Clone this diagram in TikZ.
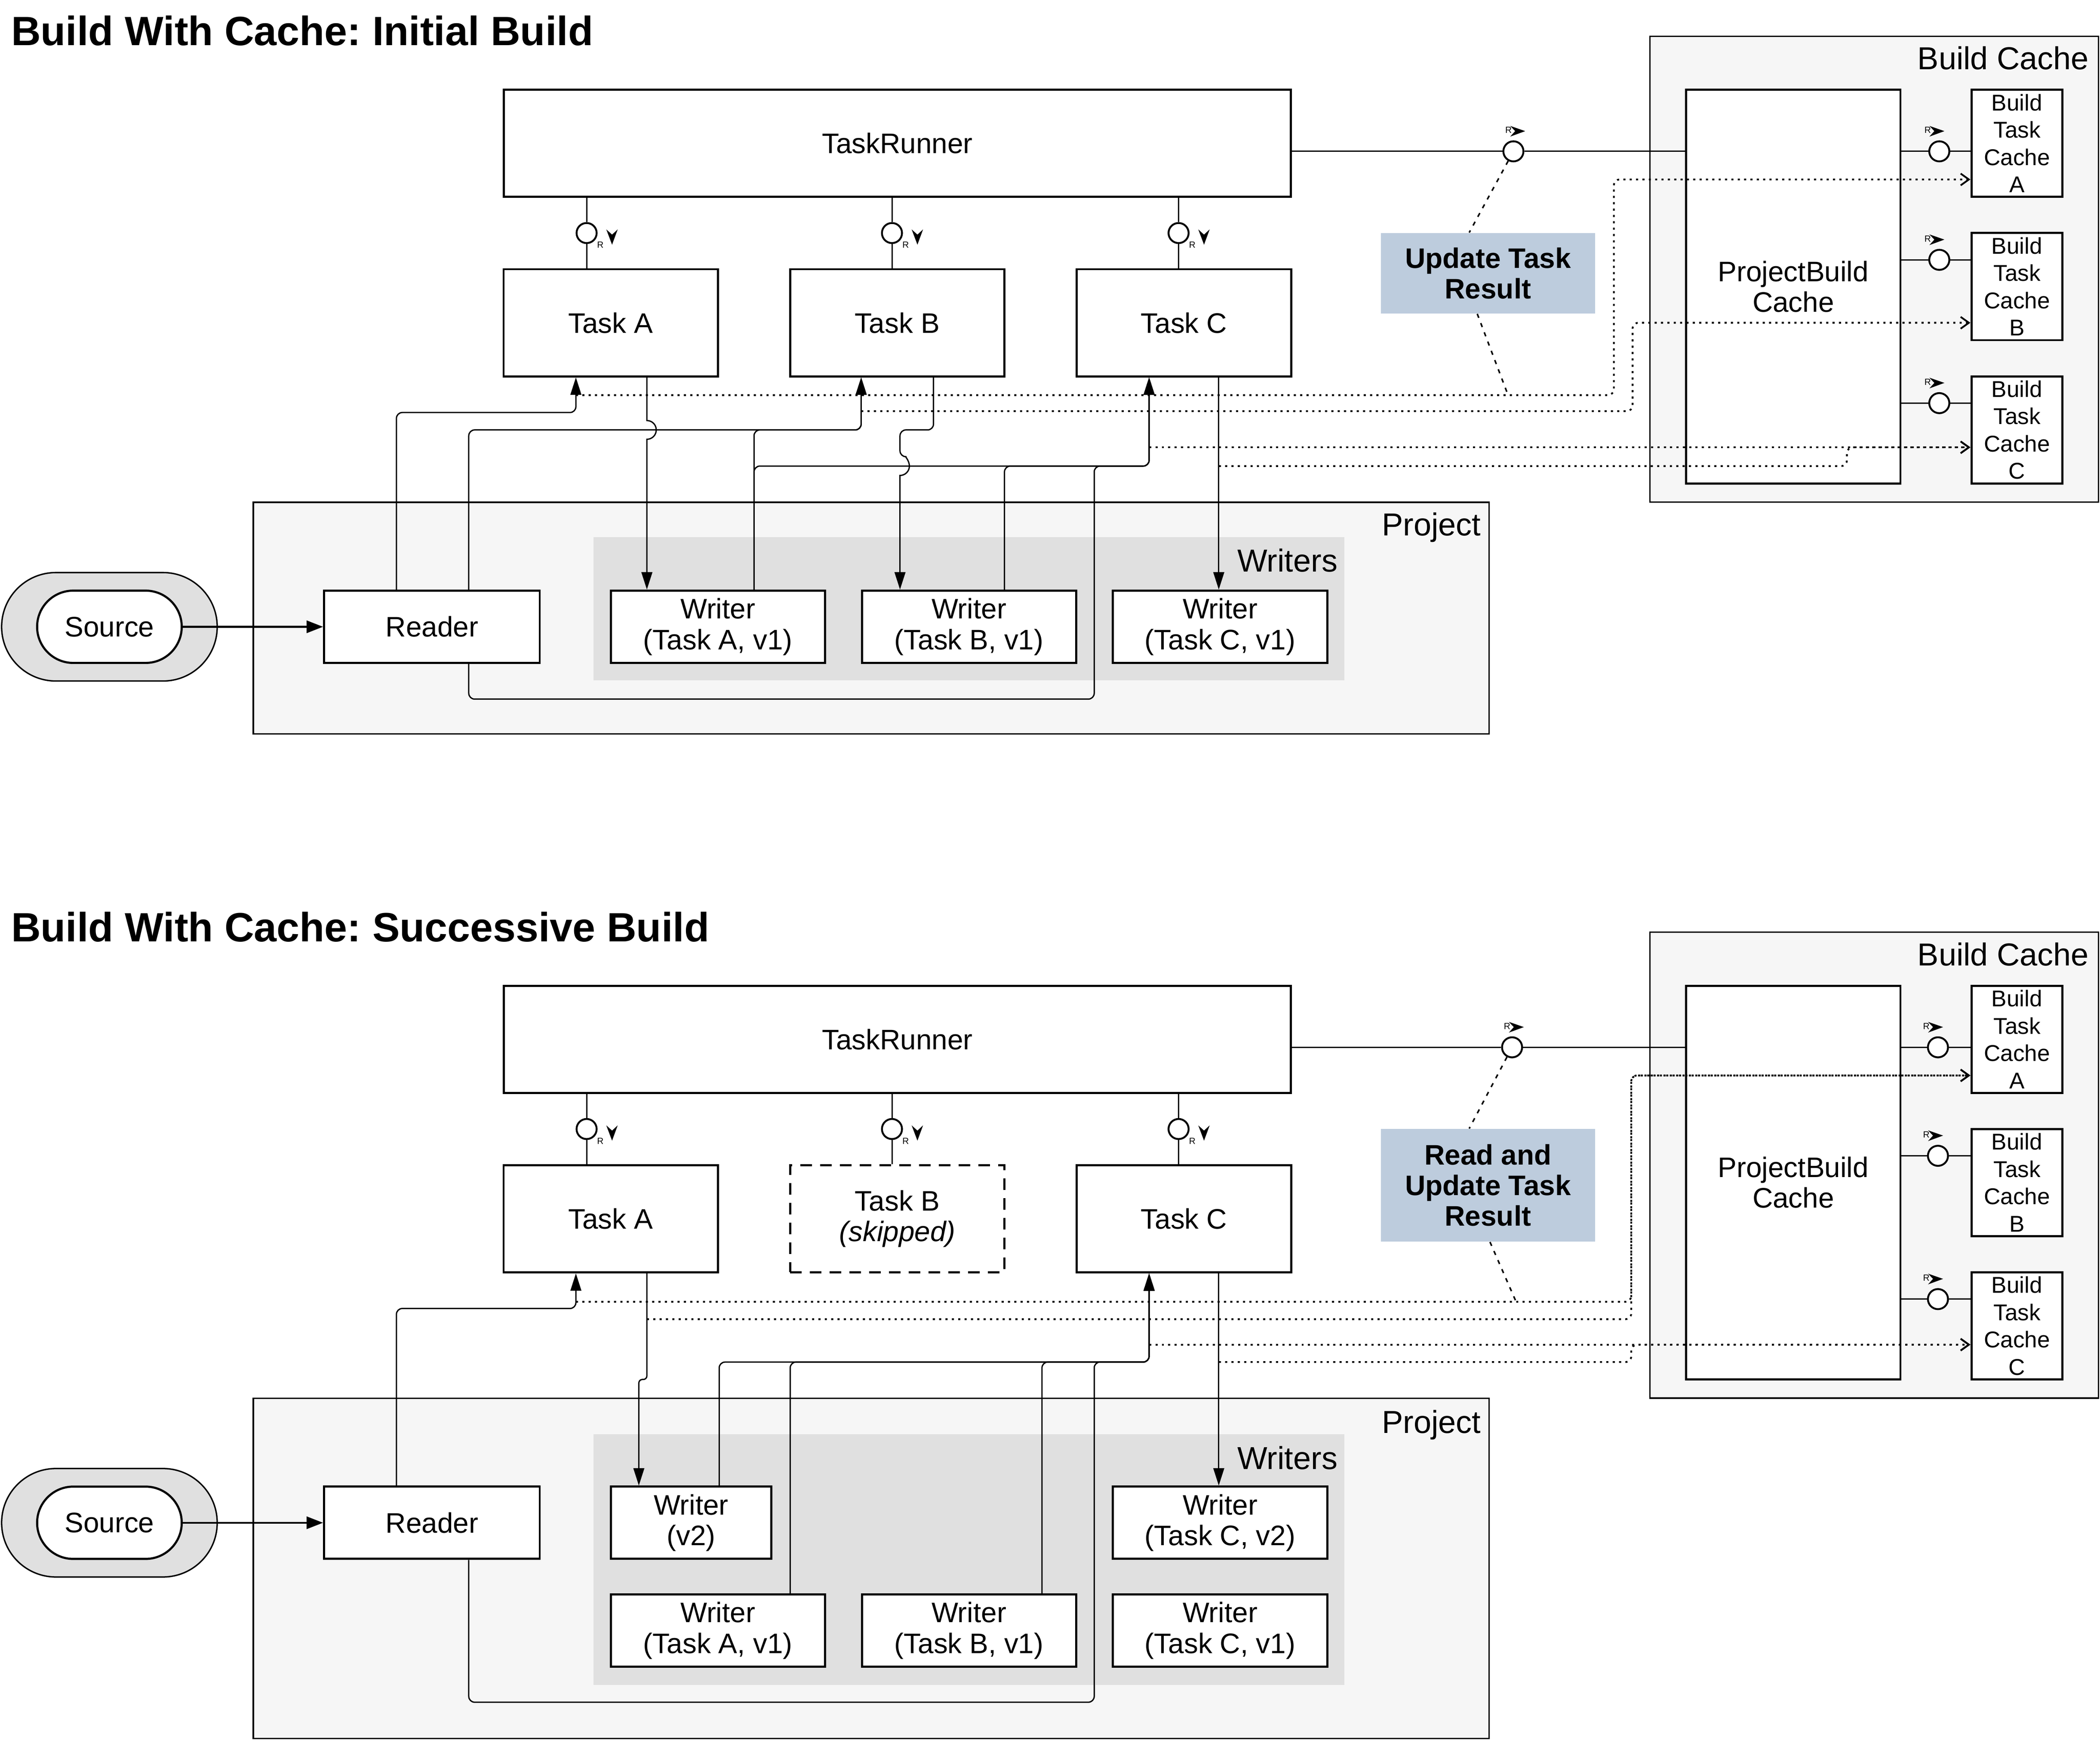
\documentclass[tikz,border=0pt]{standalone}
\usepackage{fontspec}
\setmainfont{Liberation Sans}
\usetikzlibrary{arrows.meta}
\frenchspacing

\definecolor{groupfill}{HTML}{F6F6F6}
\definecolor{writerfill}{HTML}{E0E0E0}
\definecolor{notefill}{HTML}{BDCCDD}

\tikzset{
  box/.style={draw, line width=0.9pt, fill=white, inner sep=0pt, align=center, font=\fontsize{12}{13}\selectfont},
  task/.style={box, minimum width=3.2cm, minimum height=1.6cm},
  skipped/.style={task, dash pattern=on 4.9pt off 3.5pt},
  writer/.style={box, minimum width=3.2cm, minimum height=1.08cm},
  cachebit/.style={box, minimum width=1.36cm, minimum height=1.6cm, font=\fontsize{9.7}{11.6}\selectfont},
  group/.style={draw, line width=0.6pt, fill=groupfill, inner sep=0pt},
  writerset/.style={fill=writerfill, inner sep=0pt, minimum width=11.22cm},
  grouplabel/.style={inner sep=0pt, font=\fontsize{13.5}{15}\selectfont},
  title/.style={inner sep=0pt, font=\fontsize{17.4}{20}\selectfont\bfseries},
  note/.style={fill=notefill, minimum width=3.2cm, inner sep=0pt, align=center, font=\fontsize{12}{13}\selectfont\bfseries},
  srcouter/.style={draw, line width=0.6pt, fill=writerfill, rounded corners=0.81cm, minimum width=3.22cm, minimum height=1.62cm},
  srcinner/.style={box, rounded corners=0.54cm, minimum width=2.16cm, minimum height=1.08cm},
  iface/.style={circle, draw, line width=0.8pt, fill=white, minimum size=0.3cm, inner sep=0pt},
  rtag/.style={inner sep=0pt, font=\fontsize{3.8}{4}\selectfont},
  conn/.style={line width=0.55pt, rounded corners=2.5pt},
  flow/.style={conn, -{Triangle[length=7.4pt,width=4.6pt]}},
  feed/.style={line width=0.85pt, -{Triangle[length=7pt,width=5.2pt]}},
  store/.style={line width=0.75pt, dash pattern=on 0.9pt off 1.8pt, rounded corners=2.5pt, -{Straight Barb[length=3.5pt,width=5pt]}},
  notelink/.style={line width=0.65pt, dash pattern=on 1.8pt off 2.4pt},
}

% R tag beside an interface circle
\newcommand{\tagdown}[1]{%
  \begin{scope}[shift={(#1)}]
    \node[rtag] (#1r) at (10.2,8.9) {R};
    \fill (14.7,-2.7) -- (19,1.2) -- (23.2,-2.7) -- (19,8.7) -- cycle;
  \end{scope}}
\newcommand{\tagright}[2]{%
  \begin{scope}[shift={(#1)}, xshift=#2]
    \node[rtag] (#1r) at (-3.7,-15.8) {R};
    \fill (-2.4,-19) -- (1.3,-15.1) -- (-2.4,-11) -- (8.8,-15.1) -- cycle;
  \end{scope}}

\begin{document}
\begin{tikzpicture}[x=0.02cm, y=-0.02cm]
  \useasboundingbox (0,0) rectangle (1568,1299);

  % ---------------- initial build ----------------
  \node[title, anchor=base west] (ttl1) at (8,34) {Build With Cache: Initial Build};

  \node[group, minimum width=6.7cm, minimum height=6.96cm] (bc1) at (1399.5,201) {};
  \node[grouplabel, anchor=base east] (bcl1) at (1560,52) {Build Cache};
  \node[group, minimum width=18.46cm, minimum height=3.46cm] (pj1) at (650.5,461.5) {};
  \node[grouplabel, anchor=base east] (pjl1) at (1106,400) {Project};
  \node[writerset, minimum height=2.14cm] (ws1) at (723.5,454.5) {};
  \node[grouplabel, anchor=base east] (wsl1) at (999,427) {Writers};

  \node[task, minimum width=11.76cm] (tr1) at (670,107) {TaskRunner};
  \node[task] (tkA1) at (456,241) {Task A};
  \node[task] (tkB1) at (670,241) {Task B};
  \node[task] (tkC1) at (884,241) {Task C};

  \node[box, minimum width=3.2cm, minimum height=5.88cm] (pbc1) at (1339,214) {ProjectBuild\\Cache};
  \node[cachebit] (bcA1) at (1506,107) {Build\\Task\\Cache\\A};
  \node[cachebit] (bcB1) at (1506,214) {Build\\Task\\Cache\\B};
  \node[cachebit] (bcC1) at (1506,321) {Build\\Task\\Cache\\C};

  \node[srcouter] (sbg1) at (81.7,468) {};
  \node[srcinner] (src1) at (81.7,468) {Source};
  \node[writer, minimum width=3.22cm] (rd1) at (322.5,468) {Reader};
  \node[writer] (wA1) at (536,468) {Writer\\(Task A, v1)};
  \node[writer] (wB1) at (723.5,468) {Writer\\(Task B, v1)};
  \node[writer] (wC1) at (911,468) {Writer\\(Task C, v1)};

  \node[note, minimum height=1.2cm] (nt1) at (1111,204) {Update Task\\Result};

  \node[iface] (ifA1) at (438,174) {};
  \node[iface] (ifB1) at (666,174) {};
  \node[iface] (ifC1) at (880,174) {};
  \node[iface] (ifR1) at (1130,113) {};
  \node[iface] (ifCA1) at (1448,113) {};
  \node[iface] (ifCB1) at (1448,194) {};
  \node[iface] (ifCC1) at (1448,301) {};
  \tagdown{ifA1} \tagdown{ifB1} \tagdown{ifC1}
  \tagright{ifR1}{0cm} \tagright{ifCA1}{-0.1cm} \tagright{ifCB1}{-0.1cm} \tagright{ifCC1}{-0.1cm}

  \draw[conn] (tr1.south -| ifA1) -- (ifA1) -- (tkA1.north -| ifA1);
  \draw[conn] (tr1.south -| ifB1) -- (ifB1) -- (tkB1.north -| ifB1);
  \draw[conn] (tr1.south -| ifC1) -- (ifC1) -- (tkC1.north -| ifC1);
  \draw[conn] (tr1.east |- ifR1) -- (ifR1) -- (pbc1.west |- ifR1);
  \draw[conn] (pbc1.east |- ifCA1) -- (ifCA1) -- (bcA1.west |- ifCA1);
  \draw[conn] (pbc1.east |- ifCB1) -- (ifCB1) -- (bcB1.west |- ifCB1);
  \draw[conn] (pbc1.east |- ifCC1) -- (ifCC1) -- (bcC1.west |- ifCC1);

  \draw[feed] (src1) -- (rd1);
  \draw[flow] (rd1.north -| 296,0) |- (430,308) -- (tkA1.south -| 430,0);
  \draw[flow] (rd1.north -| 350,0) |- (643,321) -- (tkB1.south -| 643,0);
  \draw[flow] (wA1.north -| 563,0) |- (643,321) -- (tkB1.south -| 643,0);
  \draw[flow] (wA1.north -| 563,0) |- (858,348) -- (tkC1.south -| 858,0);
  \draw[flow] (wB1.north -| 750,0) |- (858,348) -- (tkC1.south -| 858,0);
  \draw[flow] (rd1.south -| 350,0) |- (817,522) |- (858,348) -- (tkC1.south -| 858,0);
  \draw[flow, sharp corners] (tkA1.south -| 483,0) -- (483,314) arc[start angle=90, end angle=-90, radius=0.14cm] -- (wA1.north -| 483,0);
  \draw[flow] (tkB1.south -| 697,0) |- (672,321) -- (672,341) [sharp corners] arc[start angle=90, end angle=-90, radius=0.14cm] -- (wB1.north -| 672,0);
  \draw[flow] (tkC1.south -| 910,0) -- (wC1.north -| 910,0);

  \coordinate (inA1) at (430,295);
  \coordinate (inB1) at (643,307);
  \coordinate (inC1) at (858,334);
  \coordinate (outC1) at (910,348);
  \coordinate (ntA1) at (1126,295);
  \draw[store] (inA1) -| (1205,134) -- (bcA1.west |- 0,134);
  \draw[store] (inB1) -| (1219,241) -- (bcB1.west |- 0,241);
  \draw[store] (inC1) -- (bcC1.west |- inC1);
  \draw[store] (outC1) -| (1379,334) -- (bcC1.west |- inC1);

  \draw[notelink] (ifR1) -- ([xshift=-0.28cm]nt1.north);
  \draw[notelink] ([xshift=-0.16cm]nt1.south) -- (ntA1);

  % ---------------- successive build ----------------
  \node[title, anchor=base west] (ttl2) at (8,703) {Build With Cache: Successive Build};

  \node[group, minimum width=6.7cm, minimum height=6.96cm] (bc2) at (1399.5,870) {};
  \node[grouplabel, anchor=base east] (bcl2) at (1560,721) {Build Cache};
  \node[group, minimum width=18.46cm, minimum height=5.08cm] (pj2) at (650.5,1171) {};
  \node[grouplabel, anchor=base east] (pjl2) at (1106,1070) {Project};
  \node[writerset, minimum height=3.74cm] (ws2) at (723.5,1164.5) {};
  \node[grouplabel, anchor=base east] (wsl2) at (999,1097) {Writers};

  \node[task, minimum width=11.76cm] (tr2) at (670,776) {TaskRunner};
  \node[task] (tkA2) at (456,910) {Task A};
  \node[skipped] (tkB2) at (670,910) {Task B\\\textit{(skipped)}};
  \node[task] (tkC2) at (884,910) {Task C};

  \node[box, minimum width=3.2cm, minimum height=5.88cm] (pbc2) at (1339,883) {ProjectBuild\\Cache};
  \node[cachebit] (bcA2) at (1506,776) {Build\\Task\\Cache\\A};
  \node[cachebit] (bcB2) at (1506,883) {Build\\Task\\Cache\\B};
  \node[cachebit] (bcC2) at (1506,990) {Build\\Task\\Cache\\C};

  \node[srcouter] (sbg2) at (81.7,1137) {};
  \node[srcinner] (src2) at (81.7,1137) {Source};
  \node[writer, minimum width=3.22cm] (rd2) at (322.5,1137) {Reader};
  \node[writer, minimum width=2.4cm] (wv2) at (516,1137) {Writer\\(v2)};
  \node[writer] (wCv2) at (911,1137) {Writer\\(Task C, v2)};
  \node[writer] (wAv1) at (536,1217.5) {Writer\\(Task A, v1)};
  \node[writer] (wBv1) at (723.5,1217.5) {Writer\\(Task B, v1)};
  \node[writer] (wCv1) at (911,1217.5) {Writer\\(Task C, v1)};

  \node[note, minimum height=1.68cm] (nt2) at (1111,885) {Read and\\Update Task\\Result};

  \node[iface] (ifA2) at (438,843) {};
  \node[iface] (ifB2) at (666,843) {};
  \node[iface] (ifC2) at (880,843) {};
  \node[iface] (ifR2) at (1129,782) {};
  \node[iface] (ifCA2) at (1447,782) {};
  \node[iface] (ifCB2) at (1447,863) {};
  \node[iface] (ifCC2) at (1447,970) {};
  \tagdown{ifA2} \tagdown{ifB2} \tagdown{ifC2}
  \tagright{ifR2}{0cm} \tagright{ifCA2}{-0.1cm} \tagright{ifCB2}{-0.1cm} \tagright{ifCC2}{-0.1cm}

  \draw[conn] (tr2.south -| ifA2) -- (ifA2) -- (tkA2.north -| ifA2);
  \draw[conn] (tr2.south -| ifB2) -- (ifB2) -- (tkB2.north -| ifB2);
  \draw[conn] (tr2.south -| ifC2) -- (ifC2) -- (tkC2.north -| ifC2);
  \draw[conn] (tr2.east |- ifR2) -- (ifR2) -- (pbc2.west |- ifR2);
  \draw[conn] (pbc2.east |- ifCA2) -- (ifCA2) -- (bcA2.west |- ifCA2);
  \draw[conn] (pbc2.east |- ifCB2) -- (ifCB2) -- (bcB2.west |- ifCB2);
  \draw[conn] (pbc2.east |- ifCC2) -- (ifCC2) -- (bcC2.west |- ifCC2);

  \draw[feed] (src2) -- (rd2);
  \draw[flow] (rd2.north -| 296,0) |- (430,977) -- (tkA2.south -| 430,0);
  \draw[flow, rounded corners=1.5pt] (tkA2.south -| 483,0) |- (477,1030) -- (wv2.north -| 477,0);
  \draw[flow] (wv2.north -| 537,0) |- (858,1017) -- (tkC2.south -| 858,0);
  \draw[flow] (wAv1.north -| 590,0) |- (858,1017) -- (tkC2.south -| 858,0);
  \draw[flow] (wBv1.north -| 778,0) |- (858,1017) -- (tkC2.south -| 858,0);
  \draw[flow] (rd2.south -| 350,0) |- (817,1271) |- (858,1017) -- (tkC2.south -| 858,0);
  \draw[flow] (tkC2.south -| 910,0) -- (wCv2.north -| 910,0);

  \coordinate (inA2) at (430,972);
  \coordinate (outA2) at (483,985);
  \coordinate (inC2) at (858,1004);
  \coordinate (outC2) at (910,1017);
  \coordinate (ntA2) at (1132,972);
  \draw[store] (inA2) -| (1218,803) -- (bcA2.west |- 0,803);
  \draw[store] (outA2) -| (1218,803) -- (bcA2.west |- 0,803);
  \draw[store] (inC2) -- (bcC2.west |- inC2);
  \draw[store] (outC2) -| (1218,1004) -- (bcC2.west |- inC2);

  \draw[notelink] (ifR2) -- ([xshift=-0.28cm]nt2.north);
  \draw[notelink] ([xshift=0.03cm]nt2.south) -- (ntA2);

\end{tikzpicture}
\end{document}
